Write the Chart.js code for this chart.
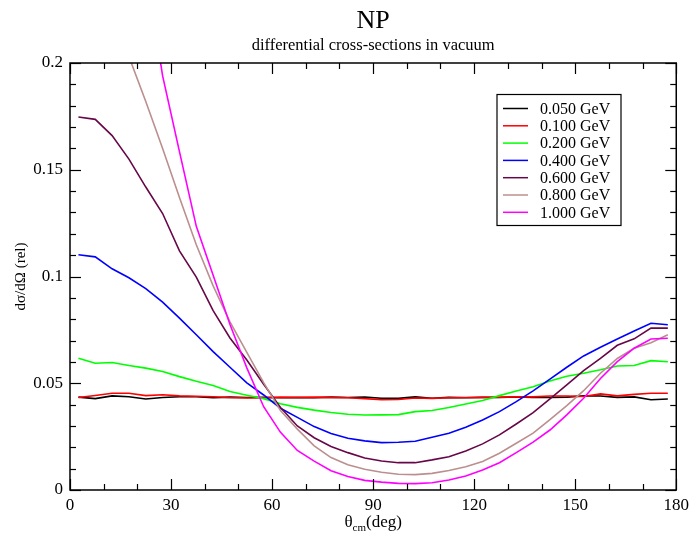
<!DOCTYPE html>
<html>
<head>
<meta charset="utf-8">
<script src="https://cdn.jsdelivr.net/npm/chart.js@4.4.1/dist/chart.umd.min.js"></script>
<style>
  html, body { margin: 0; padding: 0; background: #fff; }
  #wrap { width: 694px; height: 534px; }
</style>
</head>
<body>
<div id="wrap"><canvas id="npChart"></canvas></div>
<script>
// angolo nel c.m. (gradi)
const angles = [2.5, 7.5, 12.5, 17.5, 22.5, 27.5, 32.5, 37.5, 42.5, 47.5, 52.5, 57.5,
  62.5, 67.5, 72.5, 77.5, 82.5, 87.5, 92.5, 97.5, 102.5, 107.5, 112.5, 117.5,
  122.5, 127.5, 132.5, 137.5, 142.5, 147.5, 152.5, 157.5, 162.5, 167.5, 172.5, 177.5];

const e050 = [0.0435, 0.0428, 0.0441, 0.0437, 0.0426, 0.0433, 0.0437, 0.0437, 0.0432, 0.0435, 0.0433, 0.0434,
  0.0432, 0.0433, 0.0432, 0.0435, 0.0433, 0.0435, 0.0430, 0.0429, 0.0436, 0.0430, 0.0434, 0.0432,
  0.0434, 0.0433, 0.0436, 0.0433, 0.0433, 0.0435, 0.0441, 0.0440, 0.0434, 0.0436, 0.0423, 0.0426];
const e100 = [0.0433, 0.0443, 0.0453, 0.0453, 0.0442, 0.0446, 0.0441, 0.0439, 0.0437, 0.0433, 0.0431, 0.0432,
  0.0435, 0.0434, 0.0435, 0.0434, 0.0432, 0.0428, 0.0423, 0.0424, 0.0431, 0.0429, 0.0432, 0.0433,
  0.0434, 0.0435, 0.0436, 0.0436, 0.0440, 0.0440, 0.0438, 0.0450, 0.0441, 0.0448, 0.0453, 0.0453];
const e200 = [0.0617, 0.0594, 0.0597, 0.0583, 0.0571, 0.0555, 0.0531, 0.0509, 0.0489, 0.0461, 0.0444, 0.0428,
  0.0404, 0.0387, 0.0374, 0.0363, 0.0355, 0.0351, 0.0352, 0.0353, 0.0367, 0.0372, 0.0386, 0.0403,
  0.0419, 0.0442, 0.0464, 0.0484, 0.0511, 0.0533, 0.0547, 0.0563, 0.0581, 0.0583, 0.0606, 0.0601];
const e400 = [0.1102, 0.1092, 0.1036, 0.0994, 0.0943, 0.0880, 0.0805, 0.0727, 0.0648, 0.0575, 0.0502, 0.0445,
  0.0383, 0.0340, 0.0297, 0.0265, 0.0242, 0.0230, 0.0222, 0.0224, 0.0228, 0.0247, 0.0266, 0.0294,
  0.0328, 0.0367, 0.0414, 0.0464, 0.0519, 0.0575, 0.0628, 0.0669, 0.0707, 0.0745, 0.0781, 0.0774];
const e600 = [0.1747, 0.1736, 0.1660, 0.1550, 0.1419, 0.1295, 0.1120, 0.0997, 0.0840, 0.0712, 0.0609, 0.0495,
  0.0386, 0.0300, 0.0245, 0.0204, 0.0175, 0.0150, 0.0136, 0.0128, 0.0128, 0.0141, 0.0156, 0.0183,
  0.0216, 0.0258, 0.0309, 0.0362, 0.0427, 0.0492, 0.0559, 0.0617, 0.0678, 0.0708, 0.0758, 0.0758];
const e800 = [0.2650, 0.2500, 0.2280, 0.2030, 0.1820, 0.1600, 0.1370, 0.1149, 0.0956, 0.0788, 0.0645, 0.0503,
  0.0372, 0.0285, 0.0207, 0.0152, 0.0118, 0.0097, 0.0083, 0.0074, 0.0072, 0.0078, 0.0091, 0.0109,
  0.0134, 0.0172, 0.0219, 0.0266, 0.0330, 0.0395, 0.0465, 0.0547, 0.0616, 0.0664, 0.0690, 0.0727];
const e1000 = [0.4100, 0.3900, 0.3500, 0.3000, 0.2440, 0.1940, 0.1585, 0.1235, 0.1006, 0.0775, 0.0572, 0.0390,
  0.0270, 0.0185, 0.0135, 0.0090, 0.0063, 0.0045, 0.0037, 0.0031, 0.0030, 0.0034, 0.0047, 0.0066,
  0.0094, 0.0128, 0.0175, 0.0224, 0.0281, 0.0352, 0.0430, 0.0522, 0.0601, 0.0664, 0.0707, 0.0711];

const seriesLabels = ["0.050 GeV", "0.100 GeV", "0.200 GeV", "0.400 GeV", "0.600 GeV", "0.800 GeV", "1.000 GeV"];
const seriesData = [e050, e100, e200, e400, e600, e800, e1000];
const seriesColors = ["#000000", "#ff0000", "#00ff00", "#0000ff", "#670748", "#bc8f8f", "#ff00ff"];

const xTicks = [0, 30, 60, 90, 120, 150, 180];
const yTicks = [0, 0.05, 0.1, 0.15, 0.2];

const FONT = "'Liberation Serif', 'DejaVu Serif', serif";

// cornice con tacche interne (maggiori e minori) su tutti e quattro i lati
const frameTicks = {
  id: 'frameTicks',
  afterDatasetsDraw(chart) {
    const { ctx, chartArea: a, scales: { x, y } } = chart;
    ctx.save();
    ctx.strokeStyle = '#000';
    ctx.lineWidth = 1.5;
    ctx.strokeRect(a.left, a.top, a.right - a.left, a.bottom - a.top);
    ctx.lineWidth = 1.2;
    const seg = (x1, y1, x2, y2) => { ctx.beginPath(); ctx.moveTo(x1, y1); ctx.lineTo(x2, y2); ctx.stroke(); };
    for (let v = 0; v <= 180; v += 10) {
      const px = Math.round(x.getPixelForValue(v)) + 0.5;
      const len = v % 30 === 0 ? 11 : 6;
      seg(px, a.bottom, px, a.bottom - len);
      seg(px, a.top, px, a.top + len);
    }
    for (let i = 0; i <= 20; i++) {
      const py = Math.round(y.getPixelForValue(i / 100)) + 0.5;
      const len = i % 5 === 0 ? 11 : 6;
      seg(a.left, py, a.left + len, py);
      seg(a.right, py, a.right - len, py);
    }
    ctx.restore();
  }
};

// titoli, etichette degli assi e legenda
const annotations = {
  id: 'annotations',
  afterDraw(chart) {
    const { ctx, chartArea: a } = chart;
    const cx = (a.left + a.right) / 2;
    ctx.save();
    ctx.fillStyle = '#000';
    ctx.textAlign = 'center';
    ctx.textBaseline = 'alphabetic';
    ctx.font = `26px ${FONT}`;
    ctx.fillText('NP', cx, 28);
    ctx.font = `16.5px ${FONT}`;
    ctx.fillText('differential cross-sections in vacuum', cx, 50);

    // titolo asse x con pedice
    ctx.textAlign = 'left';
    const big = `17px ${FONT}`, small = `11px ${FONT}`;
    ctx.font = big; const w1 = ctx.measureText('θ').width, w3 = ctx.measureText('(deg)').width;
    ctx.font = small; const w2 = ctx.measureText('cm').width;
    let tx = cx - (w1 + w2 + w3) / 2;
    const ty = 527;
    ctx.font = big; ctx.fillText('θ', tx, ty); tx += w1;
    ctx.font = small; ctx.fillText('cm', tx, ty + 4); tx += w2;
    ctx.font = big; ctx.fillText('(deg)', tx, ty);

    // titolo asse y
    ctx.save();
    ctx.translate(25, (a.top + a.bottom) / 2);
    ctx.rotate(-Math.PI / 2);
    ctx.textAlign = 'center';
    ctx.font = `15px ${FONT}`;
    ctx.fillText('dσ/dΩ (rel)', 0, 0);
    ctx.restore();

    // legenda
    const box = { left: 497, top: 94.5, w: 124, h: 131 };
    ctx.fillStyle = '#fff';
    ctx.fillRect(box.left, box.top, box.w, box.h);
    ctx.strokeStyle = '#000';
    ctx.lineWidth = 1.2;
    ctx.strokeRect(box.left, box.top, box.w, box.h);
    ctx.font = `16px ${FONT}`;
    ctx.textBaseline = 'middle';
    chart.data.datasets.forEach((ds, i) => {
      const ry = box.top + 14 + i * 17.3;
      ctx.strokeStyle = ds.borderColor;
      ctx.lineWidth = 1.5;
      ctx.beginPath(); ctx.moveTo(503, ry); ctx.lineTo(528, ry); ctx.stroke();
      ctx.fillStyle = '#000';
      ctx.textAlign = 'left';
      ctx.fillText(ds.label, 540, ry + 1);
    });
    ctx.restore();
  }
};

new Chart(document.getElementById('npChart').getContext('2d'), {
  type: 'line',
  data: {
    datasets: seriesData.map((vals, i) => ({
      label: seriesLabels[i],
      data: angles.map((a, k) => ({ x: a, y: vals[k] })),
      borderColor: seriesColors[i],
      borderWidth: 1.6,
      pointRadius: 0,
      tension: 0,
      fill: false,
      order: seriesData.length - i
    }))
  },
  options: {
    responsive: true,
    maintainAspectRatio: false,
    animation: false,
    events: [],
    layout: { autoPadding: false, padding: { top: 63, right: 15, left: 0, bottom: 0 } },
    plugins: { legend: { display: false }, title: { display: false }, tooltip: { enabled: false } },
    scales: {
      x: {
        type: 'linear', min: 0, max: 180,
        afterBuildTicks: (s) => { s.ticks = xTicks.map(v => ({ value: v })); },
        afterFit: (s) => { s.height = 44; },
        grid: { display: false, drawTicks: false },
        border: { display: false },
        ticks: { color: '#000', padding: 5, maxRotation: 0, font: { family: FONT, size: 17 } }
      },
      y: {
        type: 'linear', min: 0, max: 0.2,
        afterBuildTicks: (s) => { s.ticks = yTicks.map(v => ({ value: v })); },
        afterFit: (s) => { s.width = 70; },
        grid: { display: false, drawTicks: false },
        border: { display: false },
        ticks: { color: '#000', padding: 7, font: { family: FONT, size: 17 },
          callback: (v) => String(v) }
      }
    }
  },
  plugins: [frameTicks, annotations]
});
</script>
</body>
</html>
